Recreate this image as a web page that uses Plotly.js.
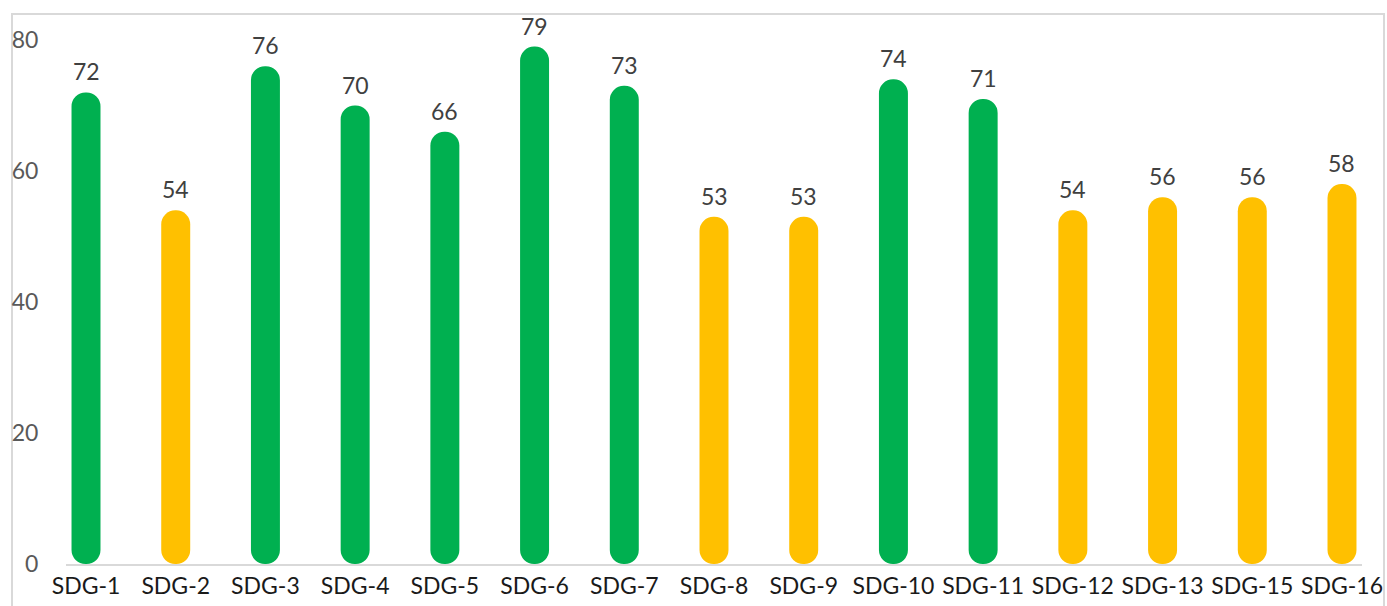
<!DOCTYPE html>
<html>
<head>
<meta charset="utf-8">
<script src="https://cdn.plot.ly/plotly-3.0.1.min.js"></script>
<style>
  html, body { margin: 0; padding: 0; background: #fff; }
  #chart { width: 1387px; height: 606px; }
</style>
</head>
<body>
<div id="chart"></div>
<script>
// ---- data ----
const categories = ["SDG-1","SDG-2","SDG-3","SDG-4","SDG-5","SDG-6","SDG-7","SDG-8","SDG-9","SDG-10","SDG-11","SDG-12","SDG-13","SDG-15","SDG-16"];
const scores = [72, 54, 76, 70, 66, 79, 73, 53, 53, 74, 71, 54, 56, 56, 58];
const groups = ["high","low","high","high","high","high","high","low","low","high","high","low","low","low","low"];
const groupColors = { high: "#00B050", low: "#FFC000" };
const yTicks = [0, 20, 40, 60, 80];

// ---- derived ----
const colors = groups.map(g => groupColors[g]);
const FONT = "Lato, 'Open Sans', sans-serif";
const BARW = 0.323;

const bars = {
  type: "bar", x: categories, y: scores, base: 0,
  width: BARW,
  marker: { color: colors, cornerradius: "50%", line: { width: 0 } },
  textposition: "none",
  cliponaxis: false, hoverinfo: "skip", showlegend: false
};

const valueLabels = categories.map((c, i) => ({
  x: c, y: scores[i], xref: "x", yref: "y",
  text: String(scores[i]), showarrow: false,
  xanchor: "center", yanchor: "bottom", yshift: 5,
  font: { family: FONT, size: 23, color: "#404040" }
}));

const layout = {
  width: 1387, height: 606,
  margin: { l: 66, r: 25, t: 40, b: 42 },
  paper_bgcolor: "#ffffff", plot_bgcolor: "#ffffff",
  xaxis: {
    type: "category", range: [-0.223, 14.223],
    showline: true, linecolor: "#d9d9d9", linewidth: 2,
    showgrid: false, zeroline: false, ticks: "",
    tickfont: { family: FONT, size: 23, color: "#1a1a1a" },
    fixedrange: true
  },
  yaxis: {
    range: [0, 80], tickvals: yTicks, ticktext: yTicks.map(String),
    showgrid: false, zeroline: false, showline: false,
    ticks: "outside", ticklen: 22, tickcolor: "rgba(0,0,0,0)",
    tickfont: { family: FONT, size: 23, color: "#595959" },
    fixedrange: true
  },
  annotations: valueLabels,
  shapes: [{
    type: "rect", xref: "paper", yref: "paper",
    x0: (12 - 66) / 1296, x1: (1384 - 66) / 1296,
    y0: -0.2, y1: (564 - 14) / 524,
    line: { color: "#d9d9d9", width: 2 }, fillcolor: "rgba(0,0,0,0)", layer: "below"
  }]
};

Plotly.newPlot("chart", [bars], layout, { displayModeBar: false, staticPlot: true });
</script>
</body>
</html>
